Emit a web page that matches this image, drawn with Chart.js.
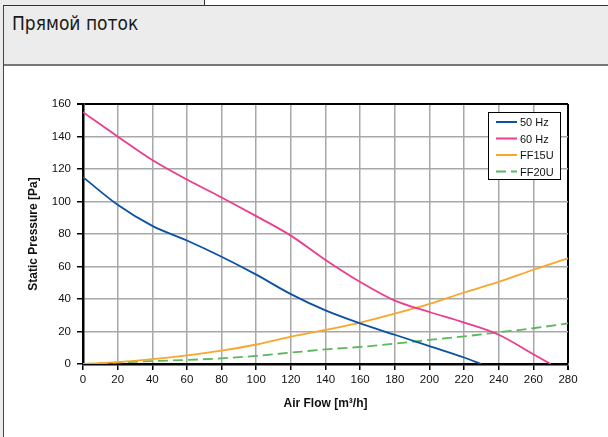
<!DOCTYPE html>
<html>
<head>
<meta charset="utf-8">
<script src="https://cdn.jsdelivr.net/npm/chart.js@4"></script>
<style>
  html, body { margin: 0; padding: 0; }
  body { width: 608px; height: 437px; position: relative; overflow: hidden; background: #ececec; }
  .tab { position: absolute; left: 0; top: 0; width: 204px; height: 5px; background: #ececec; border-right: 1px solid #333; }
  .tabRest { position: absolute; left: 205px; top: 0; right: 0; height: 5px; background: #fff; }
  .frame { position: absolute; left: 3px; top: 5px; right: 0; bottom: 0; background: #fff; border-left: 1px solid #444; border-top: 1px solid #333; }
  .header { position: absolute; left: 0; top: 0; right: 0; height: 58px; background: #ececec; border-bottom: 2px solid #777; }
  .header h1 { margin: 0; position: absolute; left: 8px; top: 6px; font-family: "DejaVu Sans", sans-serif; font-size: 19px; font-stretch: condensed; color: #1a1a1a; font-weight: normal; }
  #fanChart { position: absolute; left: 0; top: 0; }
</style>
</head>
<body>
<div class="tab"></div>
<div class="tabRest"></div>
<div class="frame">
  <div class="header"><h1>Прямой поток</h1></div>
</div>
<canvas id="fanChart" width="608" height="437"></canvas>
<script>
// fan curves
const flow50Hz = [0, 20, 40, 60, 80, 100, 120, 140, 160, 180, 200, 220, 230];
const pressure50Hz = [115, 98, 85, 76, 66, 55, 43, 33, 25, 18, 11, 4, 0];
const flow60Hz = [0, 20, 40, 60, 80, 100, 120, 140, 160, 180, 200, 220, 240, 260, 270];
const pressure60Hz = [155, 140, 125.5, 113.5, 102.5, 91, 79, 64, 50.5, 39, 32, 25.5, 18, 6, 0];

// duct system curves
const systemFlow = [0, 20, 40, 60, 80, 100, 120, 140, 160, 180, 200, 220, 240, 260, 280];
const pressureFF15U = [0, 1.2, 3, 5.3, 8.2, 12, 16.8, 21, 25.5, 31, 37, 44, 50.5, 58, 65];
const pressureFF20U = [0, 0.9, 1.8, 2.5, 3.5, 5, 7, 9, 10.5, 12.5, 14.8, 17, 19.5, 22, 25];

const seriesNames = ["50 Hz", "60 Hz", "FF15U", "FF20U"];
const seriesColors = ["#0a52a3", "#ec3d8d", "#f9a62b", "#5cb85c"];

const flowTicks = { min: 0, max: 280, step: 20 };
const pressureTicks = { min: 0, max: 160, step: 20 };

function toPoints(xs, ys) {
  return xs.map((x, i) => ({ x: x, y: ys[i] }));
}

const gridGray = "#a8a8a8";
const tickFont = { family: "Liberation Sans, Arial, sans-serif", size: 11.5 };
const titleFont = { family: "Liberation Sans, Arial, sans-serif", size: 12, weight: "bold" };

// legend box drawn inside the plot, top right
const boxLegend = {
  id: "boxLegend",
  afterDraw(chart) {
    const { ctx, chartArea } = chart;
    const w = 72, h = 67;
    const x = chartArea.right - 8 - w;
    const y = chartArea.top + 8;
    ctx.save();
    ctx.fillStyle = "#fff";
    ctx.fillRect(x, y, w, h);
    ctx.strokeStyle = "#000";
    ctx.lineWidth = 1;
    ctx.strokeRect(x + 0.5, y + 0.5, w, h);
    ctx.font = "11px Liberation Sans, Arial, sans-serif";
    ctx.textBaseline = "middle";
    chart.data.datasets.forEach((ds, i) => {
      const ly = y + 10 + i * 16.5;
      ctx.strokeStyle = ds.borderColor;
      ctx.lineWidth = 2;
      ctx.setLineDash(ds.borderDash || []);
      ctx.beginPath();
      ctx.moveTo(x + 8, ly);
      ctx.lineTo(x + 29, ly);
      ctx.stroke();
      ctx.setLineDash([]);
      ctx.fillStyle = "#111";
      ctx.fillText(ds.label, x + 32, ly + 1);
    });
    ctx.restore();
  },
};

function lineSet(i, points, dash) {
  return {
    label: seriesNames[i],
    data: points,
    borderColor: seriesColors[i],
    borderWidth: 1.8,
    borderDash: dash,
    pointRadius: 0,
    cubicInterpolationMode: "monotone",
    fill: false,
  };
}

new Chart(document.getElementById("fanChart"), {
  type: "line",
  data: {
    datasets: [
      lineSet(0, toPoints(flow50Hz, pressure50Hz)),
      lineSet(1, toPoints(flow60Hz, pressure60Hz)),
      lineSet(2, toPoints(systemFlow, pressureFF15U)),
      lineSet(3, toPoints(systemFlow, pressureFF20U), [10, 5]),
    ],
  },
  options: {
    responsive: false,
    animation: false,
    layout: { padding: { left: 22, right: 40, top: 104, bottom: 22 } },
    plugins: { legend: { display: false }, tooltip: { enabled: false } },
    scales: {
      x: {
        type: "linear",
        min: flowTicks.min,
        max: flowTicks.max,
        ticks: { stepSize: flowTicks.step, color: "#111", font: tickFont, maxRotation: 0 },
        grid: {
          color: (c) => (c.tick && c.tick.value === flowTicks.max ? "#000" : gridGray),
          lineWidth: (c) => (c.tick && c.tick.value === flowTicks.max ? 2 : 1.5),
          tickColor: "#000",
          tickLength: 6,
        },
        border: { color: "#000", width: 2.5 },
        title: { display: true, text: "Air Flow [m³/h]", color: "#111", font: titleFont, padding: 4 },
        afterFit: (scale) => { scale.height = 51; },
      },
      y: {
        min: pressureTicks.min,
        max: pressureTicks.max,
        ticks: { stepSize: pressureTicks.step, color: "#111", font: tickFont, padding: 6 },
        grid: {
          color: (c) => (c.tick && c.tick.value === pressureTicks.max ? "#000" : gridGray),
          lineWidth: (c) => (c.tick && c.tick.value === pressureTicks.max ? 2 : 1.5),
          tickColor: "#000",
          tickLength: 6,
        },
        border: { color: "#000", width: 2.5 },
        title: { display: true, text: "Static Pressure [Pa]", color: "#111", font: titleFont, padding: 4 },
        afterFit: (scale) => { scale.width = 61; },
      },
    },
  },
  plugins: [boxLegend],
});
</script>
</body>
</html>
